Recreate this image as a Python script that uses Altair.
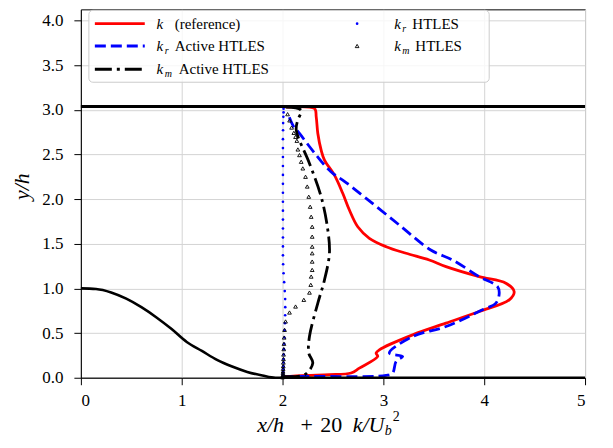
import altair as alt
import pandas as pd

# ---------------- data ----------------
hill_x = [0.0, 0.15, 0.3, 0.45, 0.6, 0.75, 0.9, 1.05, 1.2, 1.35, 1.5, 1.65, 1.8, 1.93, 5.0]
hill_y = [1.0, 0.993, 0.955, 0.885, 0.79, 0.675, 0.545, 0.40, 0.30, 0.20, 0.125, 0.065, 0.025, 0.0, 0.0]

wall_x = [0.0, 5.0]
wall_y = [3.036, 3.036]

red_x = [2.00, 2.235, 2.465, 2.68, 2.762, 2.944, 2.928, 2.96, 3.29, 3.621, 3.95, 4.248, 4.297,
         4.215, 3.95, 3.621, 3.455, 3.225, 3.027, 2.861, 2.746, 2.663, 2.597, 2.515, 2.416,
         2.383, 2.35, 2.334, 2.317, 2.037]
red_y = [0.01, 0.026, 0.034, 0.053, 0.108, 0.238, 0.276, 0.313, 0.48, 0.611, 0.741, 0.872, 0.964,
         1.058, 1.132, 1.244, 1.318, 1.393, 1.467, 1.561, 1.69, 1.877, 2.064, 2.268, 2.436,
         2.547, 2.734, 2.92, 3.013, 3.03]

kr_act_x = [2.0, 2.168, 3.027, 3.092, 3.126, 3.191, 3.059, 3.29, 3.621, 3.983, 4.116, 4.149,
            4.132, 3.95, 3.686, 3.47, 3.158, 2.829, 2.62, 2.48, 2.334, 2.168, 2.102, 2.05]
kr_act_y = [0.005, 0.015, 0.026, 0.053, 0.182, 0.238, 0.276, 0.461, 0.573, 0.76, 0.835, 0.946,
            1.02, 1.132, 1.318, 1.43, 1.709, 2.008, 2.193, 2.305, 2.492, 2.734, 2.827, 2.97]

km_act_x = [2.003, 2.218, 2.30, 2.26, 2.267, 2.35, 2.416, 2.465, 2.449, 2.383, 2.267, 2.136, 2.151, 2.185, 2.03]
km_act_y = [0.015, 0.034, 0.164, 0.276, 0.461, 0.835, 1.095, 1.393, 1.654, 2.026, 2.399, 2.771, 2.883, 2.994, 3.03]

kr_htles_y = [0.005, 0.015, 0.03, 0.05, 0.07, 0.1, 0.13, 0.17, 0.21, 0.26,
              0.32, 0.38, 0.45, 0.53, 0.61, 0.70, 0.79, 0.88, 0.97, 1.07,
              1.17, 1.27, 1.37, 1.47, 1.57, 1.67, 1.77, 1.87, 1.97, 2.07,
              2.17, 2.27, 2.37, 2.47, 2.57, 2.67, 2.77, 2.85, 2.92, 2.97, 3.01]
kr_htles_x = [2.0, 2.002, 2.004, 2.005, 2.006, 2.007, 2.008, 2.009, 2.01, 2.012,
              2.014, 2.016, 2.018, 2.02, 2.024, 2.026, 2.027, 2.026, 2.022, 2.016,
              2.01, 2.006, 2.004, 2.004, 2.004, 2.004, 2.004, 2.004, 2.004, 2.004,
              2.004, 2.004, 2.004, 2.004, 2.004, 2.004, 2.005, 2.006, 2.008, 2.01, 2.01]

km_htles_y = [0.005, 0.015, 0.03, 0.05, 0.07, 0.1, 0.13, 0.17, 0.21, 0.26,
              0.32, 0.38, 0.45, 0.536, 0.63, 0.73, 0.797, 0.872, 0.953, 1.04,
              1.132, 1.207, 1.30, 1.393, 1.467, 1.579, 1.69, 1.802, 1.914, 2.026,
              2.14, 2.249, 2.343, 2.417, 2.492, 2.555, 2.652, 2.696, 2.741, 2.80, 2.88, 2.95]
km_htles_x = [2.0, 2.002, 2.003, 2.004, 2.005, 2.006, 2.007, 2.008, 2.009, 2.01,
              2.012, 2.014, 2.016, 2.02, 2.03, 2.069, 2.129, 2.211, 2.267, 2.28,
              2.284, 2.294, 2.294, 2.294, 2.294, 2.294, 2.294, 2.284, 2.274, 2.26,
              2.245, 2.228, 2.201, 2.185, 2.168, 2.152, 2.142, 2.129, 2.112, 2.09, 2.07, 2.05]

x_ticks = [0, 1, 2, 3, 4, 5]
y_ticks = [0.0, 0.5, 1.0, 1.5, 2.0, 2.5, 3.0, 3.5, 4.0]

FONT = "Liberation Serif, DejaVu Serif, serif"
XDOM = [0, 5]
YDOM = [0, 4.123]


def frame(xs, ys):
    return pd.DataFrame({"x": xs, "y": ys, "i": list(range(len(xs)))})


def enc(ch):
    return ch.encode(
        x=alt.X("x:Q", scale=alt.Scale(domain=XDOM, nice=False, zero=False),
                axis=alt.Axis(values=x_ticks, format="d", title=None)),
        y=alt.Y("y:Q", scale=alt.Scale(domain=YDOM, nice=False, zero=False),
                axis=alt.Axis(values=y_ticks, format=".1f", title=None)),
        order=alt.Order("i:Q"),
    )


red = enc(alt.Chart(frame(red_x, red_y)).mark_line(color="#ff0000", strokeWidth=2.8,
                                                   interpolate="catmull-rom"))
kr_act = enc(alt.Chart(frame(kr_act_x, kr_act_y)).mark_line(color="#0000ff", strokeWidth=2.8,
                                                           strokeDash=[11, 5],
                                                           interpolate="catmull-rom"))
km_act = enc(alt.Chart(frame(km_act_x, km_act_y)).mark_line(color="black", strokeWidth=2.8,
                                                           strokeDash=[17, 5, 3, 5],
                                                           interpolate="catmull-rom"))
kr_ht = enc(alt.Chart(frame(kr_htles_x, kr_htles_y)).mark_point(
    shape="circle", filled=True, color="#0000ff", size=7, opacity=1))
km_ht = enc(alt.Chart(frame(km_htles_x, km_htles_y)).mark_point(
    shape="triangle-up", filled=False, color="black", size=14, strokeWidth=0.9, opacity=1))
hill = enc(alt.Chart(frame(hill_x, hill_y)).mark_line(color="black", strokeWidth=2.6,
                                                     interpolate="monotone"))
wall = enc(alt.Chart(frame(wall_x, wall_y)).mark_line(color="black", strokeWidth=3))


def txt(s, x, y, size, style="normal", align="left", baseline="alphabetic", angle=0):
    return alt.Chart().mark_text(text=s, font=FONT, fontSize=size, fontStyle=style, align=align,
                                 baseline=baseline, angle=angle, color="black").encode(
        x=alt.value(x), y=alt.value(y))


# legend box
leg_box = alt.Chart().mark_rect(fill="white", fillOpacity=0.8, stroke="#cccccc", strokeWidth=1,
                                cornerRadius=4).encode(
    x=alt.value(8), x2=alt.value(409), y=alt.value(1), y2=alt.value(73))

rows = [14.3, 36.7, 60.0]
leg_red = alt.Chart().mark_rule(color="#ff0000", strokeWidth=2.8).encode(
    x=alt.value(14), x2=alt.value(64), y=alt.value(rows[0]))
leg_kr = alt.Chart().mark_rule(color="#0000ff", strokeWidth=2.8, strokeDash=[11, 5]).encode(
    x=alt.value(14), x2=alt.value(64), y=alt.value(rows[1]))
leg_km = alt.Chart().mark_rule(color="black", strokeWidth=2.8, strokeDash=[17, 5, 3, 5]).encode(
    x=alt.value(14), x2=alt.value(64), y=alt.value(rows[2]))
leg_dot = alt.Chart().mark_point(shape="circle", filled=True, color="#0000ff", size=7, opacity=1).encode(
    x=alt.value(276.7), y=alt.value(rows[0]))
leg_tri = alt.Chart().mark_point(shape="triangle-up", filled=False, color="black", size=14,
                                 strokeWidth=0.9, opacity=1).encode(
    x=alt.value(276.7), y=alt.value(rows[1]))

LS = 15
SUB = 10
legend_texts = [
    txt("k", 75.7, rows[0] + 5, LS, "italic"),
    txt("(reference)", 94, rows[0] + 5, LS),
    txt("k", 75.7, rows[1] + 5, LS, "italic"),
    txt("r", 84, rows[1] + 8, SUB, "italic"),
    txt("Active HTLES", 94, rows[1] + 5, LS),
    txt("k", 75.7, rows[2] + 5, LS, "italic"),
    txt("m", 84, rows[2] + 8, SUB, "italic"),
    txt("Active HTLES", 98, rows[2] + 5, LS),
    txt("k", 314, rows[0] + 5, LS, "italic"),
    txt("r", 322, rows[0] + 8, SUB, "italic"),
    txt("HTLES", 332, rows[0] + 5, LS),
    txt("k", 314, rows[1] + 5, LS, "italic"),
    txt("m", 322, rows[1] + 8, SUB, "italic"),
    txt("HTLES", 335, rows[1] + 5, LS),
]

TS = 22
BASE = 423
title_texts = [
    txt("x/h", 190, BASE, TS, "italic", align="center"),
    txt("+", 226.3, BASE, TS, align="center"),
    txt("20", 250.7, BASE, TS, align="center"),
    txt("k/U", 304, BASE, TS, "italic", align="right"),
    txt("b", 304.5, BASE + 3, 14, "italic"),
    txt("2", 312.5, BASE - 11, 14),
    txt("y/h", -58.5, 177.5, TS, "italic", align="center", baseline="middle", angle=270),
]

chart = alt.layer(
    red, kr_act, km_act, kr_ht, km_ht, hill, wall,
    leg_box, leg_red, leg_kr, leg_km, leg_dot, leg_tri,
    *legend_texts, *title_texts,
).properties(
    width=505, height=369,
    autosize=alt.AutoSizeParams(type="none"),
    padding={"left": 73, "top": 1, "right": 20, "bottom": 62},
).configure_view(
    stroke="black", strokeWidth=1
).configure_axis(
    labelFont=FONT, labelFontSize=17, labelColor="black",
    tickColor="black", tickSize=7, tickWidth=1,
    domainColor="black", domainWidth=1,
    grid=True, gridColor="#d4d4d4", gridWidth=1,
).configure_axisX(labelPadding=8).configure_axisY(labelPadding=11)

chart.save("out.html", embed_options={"renderer": "svg", "actions": False})
